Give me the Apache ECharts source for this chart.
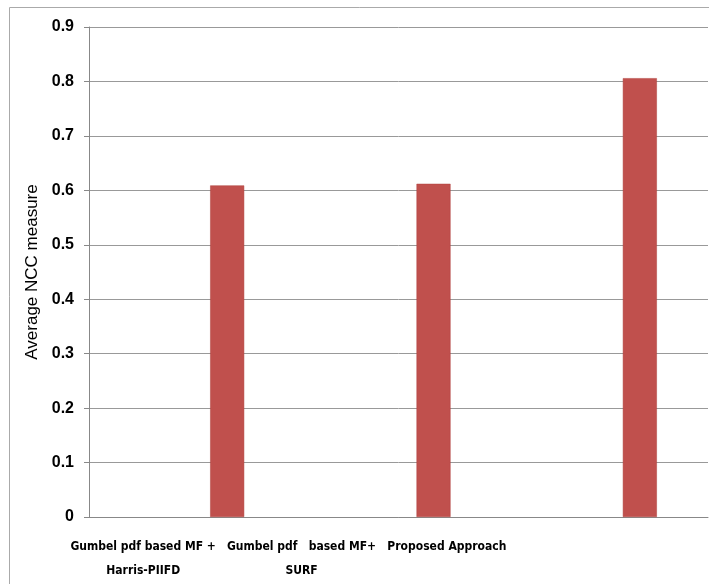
<!DOCTYPE html>
<html><head><meta charset="utf-8">
<script src="https://cdn.jsdelivr.net/npm/echarts@6/dist/echarts.min.js"></script>
<style>html,body{margin:0;padding:0;background:#fff}#c{width:709px;height:584px}</style>
</head><body><div id="c"></div>
<script>
const categories = ['Gumbel pdf based MF +\nHarris-PIIFD', 'Gumbel pdf   based MF+\nSURF', 'Proposed Approach'];
const ncc = [0.609, 0.612, 0.806];
const blank = [null, null, null];
const yTicks = [0, 0.9, 0.1];
const yTitle = 'Average NCC measure';

const FONT = '"DejaVu Sans Condensed", "Liberation Sans Narrow", "Liberation Sans", sans-serif';
const shifts = [98, 194, 316];
const rich = {};
shifts.forEach((p, i) => {
  rich['s' + i] = {fontFamily: FONT, fontWeight: 'bold', fontSize: 12, color: '#000', lineHeight: 24, padding: [0, p, 0, 0]};
});

const chart = echarts.init(document.getElementById('c'));
chart.setOption({
  animation: false,
  backgroundColor: '#fff',
  graphic: [{type: 'rect', shape: {x: 9.5, y: 7.5, width: 900, height: 800}, style: {fill: 'none', stroke: '#aaa', lineWidth: 1}, silent: true, z: -10}],
  grid: {left: 89, right: 1, top: 27, bottom: 67, containLabel: false, outerBoundsMode: 'none'},
  xAxis: {
    type: 'category', data: categories,
    axisLine: {lineStyle: {color: '#888'}},
    axisTick: {show: false},
    axisLabel: {
      interval: 0, margin: 18, hideOverlap: false,
      formatter: (v, i) => v.split('\n').map(l => '{s' + i + '|' + l + '}').join('\n'),
      rich: rich
    }
  },
  yAxis: {
    type: 'value', min: yTicks[0], max: yTicks[1], interval: yTicks[2],
    name: yTitle, nameLocation: 'middle', nameGap: 48,
    nameTextStyle: {fontFamily: '"Liberation Sans", sans-serif', fontSize: 17, color: '#000'},
    axisLine: {show: true, lineStyle: {color: '#888'}},
    axisTick: {show: true, inside: false, length: 5, lineStyle: {color: '#888'}},
    axisLabel: {margin: 15, fontFamily: '"Liberation Sans", sans-serif', fontWeight: 'bold', fontSize: 16, color: '#000',
      formatter: v => String(Math.round(v * 10) / 10)},
    splitLine: {lineStyle: {color: '#999'}}
  },
  series: [
    {type: 'bar', data: blank, barWidth: 34, barGap: '106%'},
    {type: 'bar', data: ncc, barWidth: 34, barGap: '106%', itemStyle: {color: '#c0504d', borderColor: '#b0403d', borderWidth: 0.5}}
  ]
});
</script></body></html>
